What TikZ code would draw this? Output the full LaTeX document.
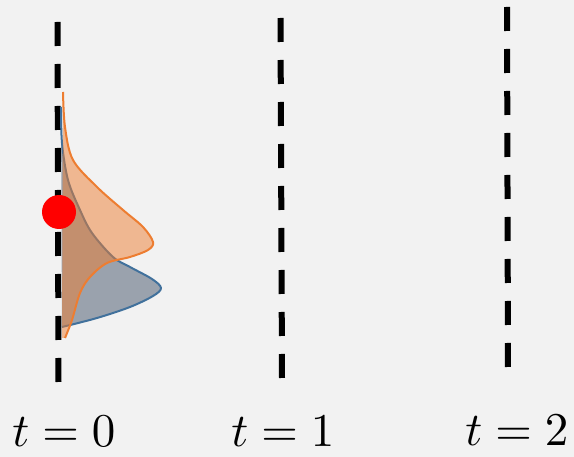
\documentclass[tikz,border=0pt]{standalone}
\usepackage{graphicx}
\definecolor{bgc}{HTML}{F2F2F2}
\definecolor{bluefill}{HTML}{44546A}
\definecolor{blueline}{HTML}{41719C}
\definecolor{orng}{HTML}{ED7D31}
\tikzset{
  dashline/.style={draw=black, line width=6pt, dash pattern=on 24pt off 18pt},
  lbl/.style={anchor=base, inner sep=0pt},
  bluedist/.style={fill=bluefill, fill opacity=0.5},
  orngdist/.style={fill=orng, fill opacity=0.5},
}
\newcommand{\biglbl}[1]{\scalebox{4.7}{$#1$}}
\begin{document}
\begin{tikzpicture}[x=1pt,y=-1pt]
\fill[bgc] (0,0) rectangle (574,457);
\useasboundingbox (0,0) rectangle (574,457);
% time axes
\draw[dashline] (57.5,22) -- (58.5,382);
\draw[dashline] (280.5,18) -- (282,378);
\draw[dashline] (507,7) -- (508,368);
% blue distribution
\fill[bluedist] plot[smooth, tension=0.55] coordinates {(61,107) (62,143) (68,180) (80,210) (92,233) (113,257) (130,267) (152,279) (161,288) (153,296) (130,307) (97,318) (62,327)} -- cycle;
\draw[blueline, line width=2pt, line join=round] plot[smooth, tension=0.55] coordinates {(61,107) (62,143) (68,180) (80,210) (92,233) (113,257) (130,267) (152,279) (161,288) (153,296) (130,307) (97,318) (62,327)};
% orange distribution
\fill[orngdist] plot[smooth, tension=0.55] coordinates {(63,92) (65,127) (73,160) (97,187) (123,210) (143,227) (153,242) (148,250) (130,257) (107,263) (90,277) (80,293) (72,320) (65,338)} -- (62,338) -- cycle;
\draw[orng, line width=2pt, line join=round] plot[smooth, tension=0.55] coordinates {(63,92) (65,127) (73,160) (97,187) (123,210) (143,227) (153,242) (148,250) (130,257) (107,263) (90,277) (80,293) (72,320) (65,338)};
% red sample point
\fill[red] (59,212) circle[radius=17];
% labels
\node[lbl] (t0) at (64,447) {\biglbl{t=0}};
\node[lbl] (t1) at (283,447) {\biglbl{t=1}};
\node[lbl] (t2) at (517,446) {\biglbl{t=2}};
\end{tikzpicture}
\end{document}
